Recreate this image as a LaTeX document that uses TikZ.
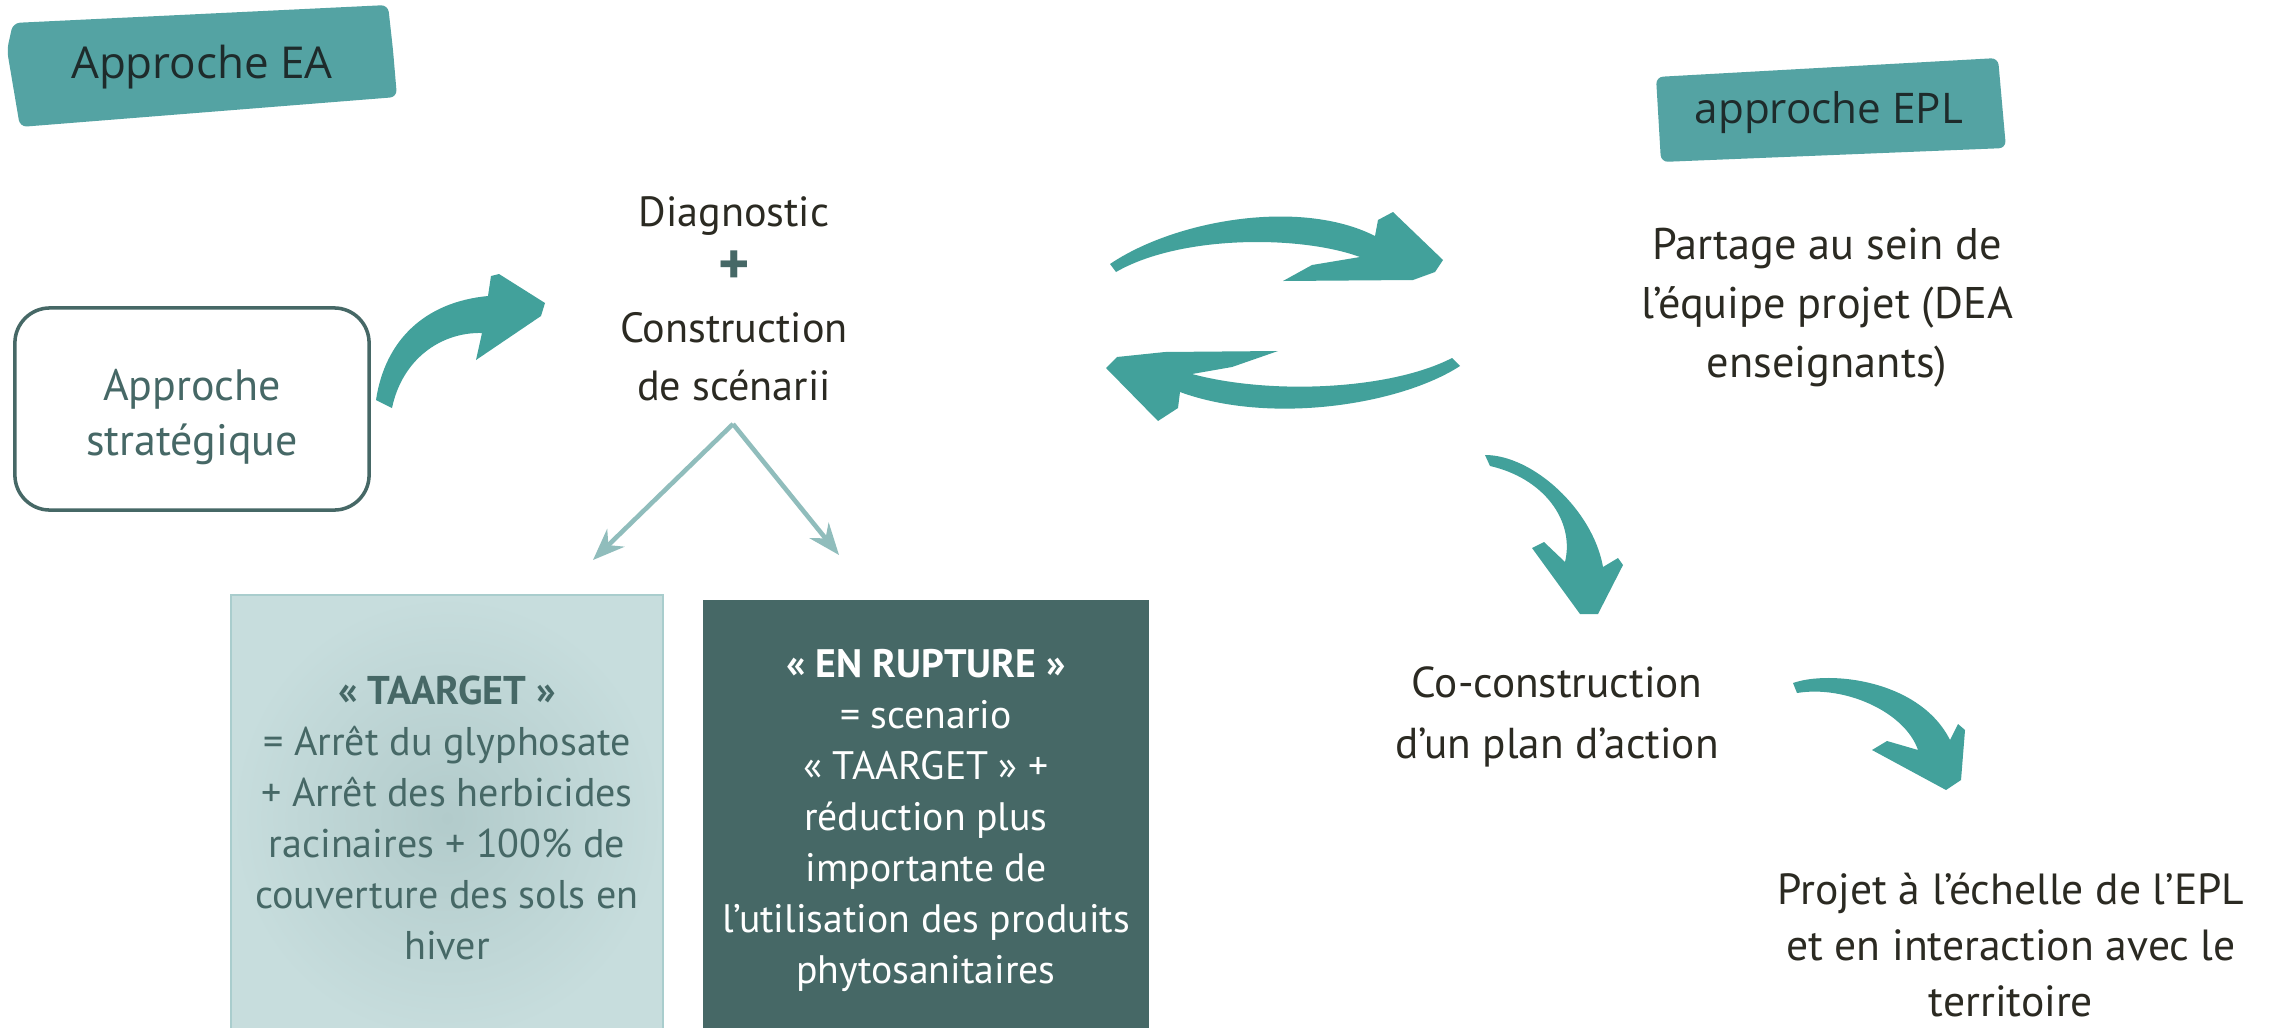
\documentclass[tikz,border=0pt]{standalone}
\usepackage{fontspec}
\setmainfont{PT Sans}
\newfontfamily\hdfont{Open Sans}
\usetikzlibrary{arrows.meta}
\definecolor{banner}{HTML}{54A3A3}
\definecolor{brush}{HTML}{42A19B}
\definecolor{tealgray}{HTML}{466866}
\definecolor{txt}{HTML}{2B2A22}
\definecolor{hdtxt}{HTML}{1E2B2B}
\definecolor{vline}{HTML}{90BDBC}
\definecolor{lightin}{HTML}{B2CBCB}
\definecolor{lightout}{HTML}{C7DDDD}
\definecolor{lightedge}{HTML}{A9CDCD}
\tikzset{
  hdtext/.style={font=\hdfont\fontsize{12.5}{15}\selectfont, text=hdtxt, inner sep=0pt},
  bannerfill/.style={fill=banner, rounded corners=2pt},
  maintext/.style={font=\fontsize{12}{16.5}\selectfont, text=txt, align=center, inner sep=0pt},
  stratbox/.style={draw=tealgray, line width=1pt, rounded corners=0.35cm, minimum width=3.54cm, minimum height=2.02cm},
  strattext/.style={align=center, text=tealgray, inner sep=0pt, font=\fontsize{12.5}{15.9}\selectfont},
  taarget/.style={shade, inner color=lightin, outer color=lightout, draw=lightedge, line width=0.6pt, minimum width=4.32cm, minimum height=4.45cm, align=center, text=tealgray, font=\fontsize{11.4}{14.5}\selectfont},
  rupture/.style={fill=tealgray, minimum width=4.45cm, minimum height=4.4cm, align=center, text=white, font=\fontsize{11.3}{14.5}\selectfont},
  vconn/.style={draw=vline, line width=1.3pt, -{Stealth[length=9pt,width=7pt]}},
  brusharrow/.style={fill=brush}
}
\begin{document}
\begin{tikzpicture}[x=0.01cm,y=-0.01cm]
\useasboundingbox (0,0) rectangle (2279,1027);
\fill[white] (0,0) rectangle (2279,1027);

% banners
\fill[bannerfill] (13,23) -- (388,5) -- (393,50) -- (397,97) -- (20,127) -- (7,50) -- cycle;
\node[hdtext] (hdEA) at (202,67) {Approche EA};
\fill[bannerfill] (1656,77) -- (1998,58) -- (2006,148) -- (1661,162) -- cycle;
\node[hdtext, font=\hdfont\fontsize{12}{15}\selectfont] (hdEPL) at (1829,113) {approche EPL};

% nodes
\node[stratbox] (strat) at (192,409) {};
\node[strattext] (strattxt) at (192,417) {Approche\\stratégique};
\node[maintext] (diag) at (734,299) {Diagnostic\\{\color{tealgray}\bfseries\fontsize{17}{16.5}\selectfont +}\\Construction\\de scénarii};
\node[taarget] (taarget) at (447,818) {{\bfseries « TAARGET »}\\= Arrêt du glyphosate\\+ Arrêt des herbicides\\racinaires + 100\% de\\couverture des sols en\\hiver};
\node[rupture] (rupt) at (926,820) {{\bfseries « EN RUPTURE »}\\= scenario\\« TAARGET » +\\réduction plus\\importante de\\l’utilisation des produits\\phytosanitaires};
\node[maintext, font=\fontsize{12.6}{16.8}\selectfont] (partage) at (1827,308) {Partage au sein de\\l’équipe projet (DEA\\enseignants)};
\node[maintext, font=\fontsize{12.3}{17.3}\selectfont] (coco) at (1557,717) {Co-construction\\d’un plan d’action};
\node[maintext, font=\fontsize{12.4}{15.8}\selectfont] (projet) at (2011,945) {Projet à l’échelle de l’EPL\\et en interaction avec le\\territoire};

% V connectors
\coordinate (apex) at (733,424);
\coordinate (vL) at (593,560);
\coordinate (vR) at (839,555);
\draw[vconn] (apex) -- (vL);
\draw[vconn] (apex) -- (vR);

% brush arrows
\fill[brusharrow] (376,400) .. controls (385,340) and (425,302) .. (488,296)
  -- (491,276) -- (499,274) -- (545,303) -- (541,316) -- (476,360) -- (482,333)
  .. controls (440,332) and (402,360) .. (392,408) -- cycle;
\fill[brusharrow] (1110,264) .. controls (1175,220) and (1300,198) .. (1375,236)
  -- (1378,220) -- (1393,212) -- (1443,260) -- (1435,272) -- (1413,280) -- (1283,281) -- (1312,265) -- (1360,257)
  .. controls (1300,235) and (1180,235) .. (1116,272) -- cycle;
\fill[brusharrow] (1460,366) .. controls (1400,405) and (1270,425) .. (1180,392)
  -- (1178,408) -- (1158,421) -- (1106,368) -- (1117,357) -- (1165,352) -- (1278,351) -- (1232,367) -- (1192,374)
  .. controls (1270,395) and (1390,390) .. (1452,358) -- cycle;
\fill[brusharrow] (1485,455) .. controls (1533,455) and (1593,510) .. (1603,567)
  -- (1618,558) -- (1623,565) -- (1598,614) -- (1580,614) -- (1532,548) -- (1544,542) -- (1565,562)
  .. controls (1575,520) and (1543,478) .. (1490,466) -- cycle;
\fill[brusharrow] (1793,683) .. controls (1830,670) and (1920,680) .. (1950,740)
  -- (1958,724) -- (1965,730) -- (1961,780) -- (1946,790) -- (1872,750) -- (1887,741) -- (1918,750)
  .. controls (1905,712) and (1845,685) .. (1797,693) -- cycle;
\end{tikzpicture}
\end{document}
